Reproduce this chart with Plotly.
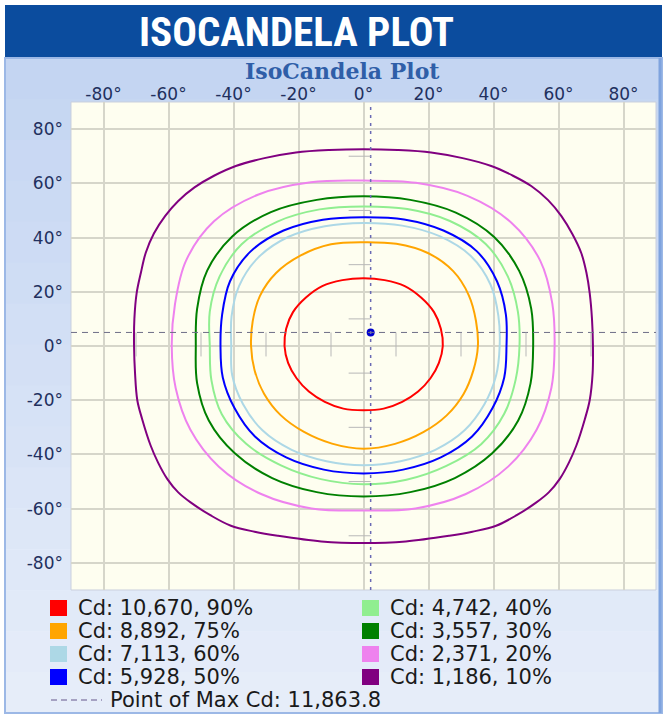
import plotly.graph_objects as go

# ---------------- data (degrees) ----------------
x_tick_vals = [-80, -60, -40, -20, 0, 20, 40, 60, 80]
x_tick_labels = ["-80°", "-60°", "-40°", "-20°", "0°", "20°", "40°", "60°", "80°"]
y_tick_vals = [80, 60, 40, 20, 0, -20, -40, -60, -80]
y_tick_labels = ["80°", "60°", "40°", "20°", "0°", "-20°", "-40°", "-60°", "-80°"]

legend_labels = ["Cd: 10,670, 90%", "Cd: 8,892, 75%", "Cd: 7,113, 60%", "Cd: 5,928, 50%",
                 "Cd: 4,742, 40%", "Cd: 3,557, 30%", "Cd: 2,371, 20%", "Cd: 1,186, 10%"]
contour_colors = ["#FF0000", "#FFA500", "#ADD8E6", "#0000FF",
                  "#90EE90", "#008000", "#EE82EE", "#800080"]

red_x = [0, 6.5, 12.7, 17.8, 21.7, 23.8, 24.4, 23.2, 20.6, 16.8, 11.9, 6.2, 0,
         -6.2, -11.9, -16.8, -20.6, -23.2, -24.3, -23.8, -21.7, -17.8, -12.7, -6.5, 0]
red_y = [25, 24.3, 22.1, 17.8, 12.5, 6.4, 0, -6.2, -11.9, -16.8, -20.6, -23.1, -23.7,
         -23.1, -20.6, -16.8, -11.9, -6.2, 0, 6.4, 12.5, 17.8, 22.1, 24.3, 25]

orange_x = [0, 10.1, 19.8, 27.6, 32.4, 34.6, 35.2, 33.8, 30.8, 25.6, 18.4, 9.7, 0,
            -9.7, -18.3, -25.5, -30.6, -33.5, -34.6, -34.1, -31.9, -26.9, -19.3, -10, 0]
orange_y = [38.3, 37.7, 34.3, 27.6, 18.7, 9.3, 0, -9, -17.7, -25.6, -31.8, -36.1, -37.9,
            -36, -31.7, -25.5, -17.6, -9, 0, 9.1, 18.4, 26.9, 33.4, 37.5, 38.3]

lightblue_x = [0, 11.9, 23.4, 33.1, 39.1, 41.5, 41.9, 40.8, 37.2, 31.1, 22.1, 11.4, 0,
               -11.4, -22.1, -31.1, -37.1, -40.4, -40.7, -40.6, -38.3, -32.5, -23.2, -11.9, 0]
lightblue_y = [45.4, 44.4, 40.5, 33.1, 22.6, 11.1, 0, -10.9, -21.5, -31.1, -38.3, -42.5, -44,
               -42.5, -38.3, -31.1, -21.4, -10.8, 0, 10.9, 22.1, 32.5, 40.2, 44.2, 45.4]

blue_x = [0, 12.5, 24.6, 34.9, 41.1, 43.8, 44, 43.3, 39.7, 33.4, 23.8, 12.2, 0,
          -12.2, -23.8, -33.4, -39.7, -43.3, -44, -43.5, -41.1, -34.8, -24.6, -12.5, 0]
blue_y = [47.5, 46.7, 42.6, 34.9, 23.8, 11.7, 0, -11.6, -22.9, -33.4, -41.1, -45.6, -47,
          -45.6, -41.1, -33.4, -22.9, -11.6, 0, 11.6, 23.8, 34.8, 42.6, 46.6, 47.5]

lightgreen_x = [0, 13.5, 26.6, 37.6, 44.4, 47.5, 48, 46.8, 43.3, 36.2, 25.5, 13.2, 0,
                -13.1, -25.4, -36.1, -43.6, -46.8, -47.3, -47.3, -44.3, -37.5, -26.5, -13.5, 0]
lightgreen_y = [51.5, 50.5, 46.1, 37.6, 25.7, 12.7, 0, -12.5, -25, -36.2, -44.2, -49.3, -51,
                -49.1, -44, -36.1, -25.2, -12.6, 0, 12.7, 25.6, 37.5, 45.9, 50.4, 51.5]

darkgreen_x = [0, 14.4, 28.4, 40.2, 47.9, 51.6, 52.2, 51.4, 47.6, 39.6, 28.1, 14.4, 0,
               -14.4, -28.1, -39.6, -47.6, -51.2, -51.6, -51.2, -48.1, -40.4, -28.5, -14.4, 0]
darkgreen_y = [55.2, 53.9, 49.2, 40.2, 27.7, 13.8, 0, -13.8, -27.5, -39.6, -48.7, -53.9, -55.5,
               -53.9, -48.7, -39.6, -27.5, -13.7, 0, 13.7, 27.8, 40.4, 49.4, 53.9, 55.2]

pink_x = [0, 16.1, 32, 45.5, 54.4, 58.1, 58.8, 57.8, 53.3, 44.5, 31.5, 16, 0,
          -16, -31.5, -44.5, -53.3, -57.8, -59, -58, -54.6, -46, -32.3, -16.2, 0]
pink_y = [61, 60.2, 55.4, 45.5, 31.4, 15.6, 0, -15.5, -30.8, -44.5, -54.6, -59.9, -60.7,
          -59.9, -54.6, -44.5, -30.8, -15.5, 0, 15.5, 31.5, 46, 55.9, 60.4, 61]

purple_x = [0, 10.5, 20.8, 30.5, 39.3, 46, 51.6, 56.8, 60.9, 64.3, 67, 68.6, 69.6, 70.3, 70.6,
            70.5, 69.6, 68.1, 65.5, 63.2, 60.4, 57, 53.2, 47, 40.8, 33.5, 26.4, 13, 0,
            -13, -26.4, -33.5, -40.8, -47, -53.2, -57, -60.4, -63.2, -65.5, -68.1, -69.6, -70.3, -70.6,
            -70.5, -69.8, -68.5, -67, -64.5, -61, -57, -52, -46, -39.3, -30.5, -20.8, -10.5, 0]
purple_y = [72.6, 72.3, 71.4, 69.3, 66.4, 62.8, 59, 53.8, 47.9, 41.2, 34.3, 27, 19.5, 10, 0,
            -10, -20, -27, -36.7, -43, -49, -54, -57.7, -62.5, -66.3, -68.5, -70, -72.1, -72.7,
            -72.1, -70, -68.5, -66.3, -62.5, -57.7, -54, -49, -43, -36.7, -27, -20, -10, 0,
            10, 19.5, 27, 34.4, 41.5, 48, 53.5, 58.5, 62.8, 66.4, 69.3, 71.4, 72.3, 72.6]

contours_x = [red_x, orange_x, lightblue_x, blue_x, lightgreen_x, darkgreen_x, pink_x, purple_x]
contours_y = [red_y, orange_y, lightblue_y, blue_y, lightgreen_y, darkgreen_y, pink_y, purple_y]

max_point_x = [2.2]
max_point_y = [5.0]
max_label = "Point of Max Cd: 11,863.8"
crosshair_ticks = [-70, -50, -30, -10, 10, 30, 50, 70]

# ---------------- layout geometry ----------------
W, H = 667, 715
ML, MR, MT, MB = 71, 11, 102, 125
PW, PH = W - ML - MR, H - MT - MB


def px(x):
    return (x - ML) / PW


def py(y):
    return (H - MB - y) / PH


fig = go.Figure()

for cx, cy, col in reversed(list(zip(contours_x, contours_y, contour_colors))):
    fig.add_trace(go.Scatter(x=cx, y=cy, mode="lines",
                             line=dict(color=col, width=2, shape="spline", smoothing=1.0),
                             hoverinfo="skip", showlegend=False))

fig.add_trace(go.Scatter(x=max_point_x, y=max_point_y, mode="markers",
                         marker=dict(color="#0000CC", size=8, symbol="circle"),
                         hoverinfo="skip", showlegend=False))

shapes = []
# header bar
shapes.append(dict(type="rect", xref="paper", yref="paper", layer="below",
                   x0=px(5), x1=px(662), y0=py(5), y1=py(58),
                   fillcolor="#0B4C9E", line=dict(width=0)))
# light-blue panel (vertical gradient via strips)
top_c = (196, 213, 242)
bot_c = (230, 237, 249)
n_strips = 16
y_start, y_end = 58, 713
for i in range(n_strips):
    t = i / (n_strips - 1)
    c = tuple(int(round(top_c[k] + (bot_c[k] - top_c[k]) * t)) for k in range(3))
    ya = y_start + (y_end - y_start) * i / n_strips
    yb = y_start + (y_end - y_start) * (i + 1) / n_strips
    shapes.append(dict(type="rect", xref="paper", yref="paper", layer="below",
                       x0=px(5), x1=px(662), y0=py(ya), y1=py(yb + 0.5),
                       fillcolor="rgb(%d,%d,%d)" % c, line=dict(width=0)))
shapes.append(dict(type="rect", xref="paper", yref="paper", layer="below",
                   x0=px(5), x1=px(662), y0=py(58), y1=py(713),
                   fillcolor="rgba(0,0,0,0)", line=dict(color="#9CB8E6", width=2)))
shapes.append(dict(type="line", xref="paper", yref="paper", layer="below",
                   x0=px(660), x1=px(660), y0=py(58), y1=py(713),
                   line=dict(color="#7FA3DE", width=3)))
# plot area background
shapes.append(dict(type="rect", xref="x domain", yref="y domain", layer="below",
                   x0=0, x1=1, y0=0, y1=1,
                   fillcolor="#FEFEF0", line=dict(color="#C9CFDD", width=1)))

# crosshair through max point
shapes.append(dict(type="line", xref="x domain", yref="y", x0=0, x1=1,
                   y0=max_point_y[0], y1=max_point_y[0],
                   line=dict(color="#6E6E86", width=1, dash="6px,5px")))
shapes.append(dict(type="line", xref="x", yref="y domain", x0=max_point_x[0], x1=max_point_x[0],
                   y0=0, y1=1, line=dict(color="#6A6AB4", width=1.5, dash="3px,5px")))
for tv in crosshair_ticks:
    shapes.append(dict(type="line", xref="x", yref="y",
                       ysizemode="pixel", yanchor=max_point_y[0],
                       x0=tv, x1=tv, y0=0, y1=-24,
                       line=dict(color="#B8B8B8", width=1)))
    shapes.append(dict(type="line", xref="x", yref="y", xsizemode="pixel",
                       xanchor=max_point_x[0], x0=-22, x1=0, y0=tv, y1=tv,
                       line=dict(color="#B8B8B8", width=1)))

annotations = []
annotations.append(dict(text="<b>ISOCANDELA PLOT</b>", xref="paper", yref="paper",
                        x=px(296), y=py(32), xanchor="center", yanchor="middle", showarrow=False,
                        font=dict(family="Liberation Sans Narrow, Roboto Condensed, Liberation Sans, sans-serif",
                                  size=41, color="#FFFFFF")))
annotations.append(dict(text="<b>IsoCandela Plot</b>", xref="paper", yref="paper",
                        x=px(342), y=py(71), xanchor="center", yanchor="middle", showarrow=False,
                        font=dict(family="DejaVu Serif, serif", size=22, color="#2F5EA8")))

row_y = [608, 631, 654, 677]
col_sq_x = [50, 362]
col_txt_x = [76, 388]
leg_font = dict(family="DejaVu Sans, sans-serif", size=21, color="#1A1A1A")
for i, (lab, col) in enumerate(zip(legend_labels, contour_colors)):
    c = i // 4
    r = i % 4
    shapes.append(dict(type="rect", xref="paper", yref="paper",
                       x0=px(col_sq_x[c]), x1=px(col_sq_x[c] + 17),
                       y0=py(row_y[r] - 8), y1=py(row_y[r] + 8),
                       fillcolor=col, line=dict(width=0)))
    annotations.append(dict(text=lab, xref="paper", yref="paper",
                            x=px(col_txt_x[c]), y=py(row_y[r]), xanchor="left", yanchor="middle",
                            showarrow=False, font=leg_font))
shapes.append(dict(type="line", xref="paper", yref="paper",
                   x0=px(51), x1=px(102), y0=py(700), y1=py(700),
                   line=dict(color="#9088B0", width=1.5, dash="6px,4px")))
annotations.append(dict(text=max_label, xref="paper", yref="paper",
                        x=px(108), y=py(700), xanchor="left", yanchor="middle", showarrow=False,
                        font=leg_font))

tick_font = dict(family="DejaVu Sans, sans-serif", size=17, color="#22305E")
fig.update_layout(
    width=W, height=H, autosize=False,
    margin=dict(l=ML, r=MR, t=MT, b=MB, pad=0),
    paper_bgcolor="#FFFFFF", plot_bgcolor="rgba(0,0,0,0)",
    showlegend=False,
    shapes=shapes, annotations=annotations,
    xaxis=dict(range=[-90, 90], side="top", tickmode="array", tickvals=x_tick_vals,
               ticktext=x_tick_labels, showgrid=True, gridcolor="#D6D6CA", gridwidth=1.5,
               zeroline=False, showline=False, ticks="", tickfont=tick_font, fixedrange=True,
               ticklabelstandoff=-2),
    yaxis=dict(range=[-90, 90], tickmode="array", tickvals=y_tick_vals, ticktext=y_tick_labels,
               showgrid=True, gridcolor="#D6D6CA", gridwidth=1.5, zeroline=False, showline=False,
               ticks="", tickfont=tick_font, fixedrange=True, ticklabelstandoff=7),
)

fig.write_html("out.html", config={"displayModeBar": False},
               post_script="document.body.style.margin='0';document.body.style.overflow='hidden';")
